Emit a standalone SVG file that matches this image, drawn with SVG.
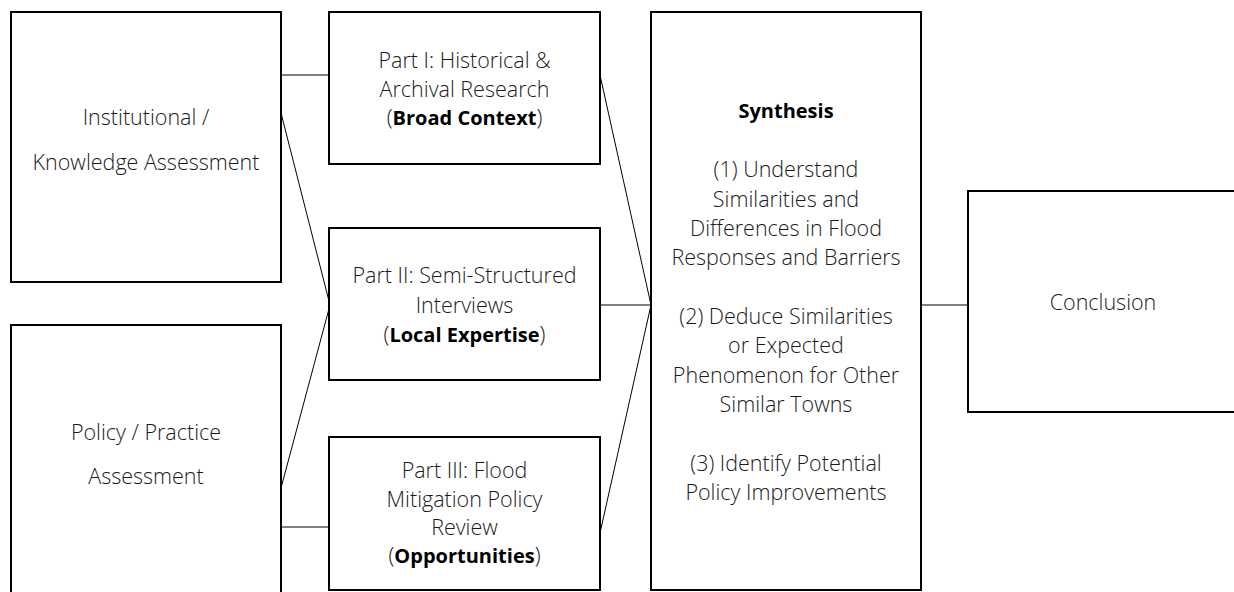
<svg xmlns="http://www.w3.org/2000/svg" width="1234" height="592" viewBox="0 0 1234 592">
  <style>
    .box { fill: #ffffff; stroke: #000000; stroke-width: 2; }
    .conn line { stroke: #000000; stroke-width: 1; fill: none; }
    text { font-family: "Open Sans", "Liberation Sans", sans-serif; font-size: 21.5px; font-weight: 300; fill: #1a1a1a; text-anchor: middle; }
    .b { font-size: 20px; font-weight: 700; fill: #000000; }
  </style>
  <rect width="1234" height="592" fill="#ffffff"/>
  <g id="connectors" class="conn">
    <line x1="281" y1="75" x2="329" y2="75"/>
    <line x1="281" y1="113" x2="330" y2="305"/>
    <line x1="281" y1="488" x2="330" y2="305"/>
    <line x1="281" y1="527" x2="329" y2="527"/>
    <line x1="600" y1="75" x2="651" y2="305"/>
    <line x1="600" y1="305" x2="651" y2="305"/>
    <line x1="600" y1="533" x2="651" y2="305"/>
    <line x1="921" y1="305" x2="968" y2="305"/>
  </g>
  <g id="institutional">
    <rect class="box" x="11" y="12" width="270" height="270"/>
    <text x="146" y="125">Institutional /</text>
    <text x="146" y="170">Knowledge Assessment</text>
  </g>
  <g id="policy">
    <rect class="box" x="11" y="325" width="270" height="270"/>
    <text x="146" y="440">Policy / Practice</text>
    <text x="146" y="484">Assessment</text>
  </g>
  <g id="part1">
    <rect class="box" x="329" y="12" width="271" height="152"/>
    <text x="464.5" y="68">Part I: Historical &amp;</text>
    <text x="464.5" y="97">Archival Research</text>
    <text x="464.5" y="125">(<tspan class="b">Broad Context</tspan>)</text>
  </g>
  <g id="part2">
    <rect class="box" x="329" y="228" width="271" height="152"/>
    <text x="464.5" y="283">Part II: Semi-Structured</text>
    <text x="464.5" y="313">Interviews</text>
    <text x="464.5" y="342">(<tspan class="b">Local Expertise</tspan>)</text>
  </g>
  <g id="part3">
    <rect class="box" x="329" y="437" width="271" height="153"/>
    <text x="464.5" y="478">Part III: Flood</text>
    <text x="464.5" y="507">Mitigation Policy</text>
    <text x="464.5" y="535">Review</text>
    <text x="464.5" y="563">(<tspan class="b">Opportunities</tspan>)</text>
  </g>
  <g id="synthesis">
    <rect class="box" x="651" y="12" width="270" height="578"/>
    <text x="786" y="118" class="b">Synthesis</text>
    <text x="786" y="177">(1) Understand</text>
    <text x="786" y="207">Similarities and</text>
    <text x="786" y="236">Differences in Flood</text>
    <text x="786" y="265">Responses and Barriers</text>
    <text x="786" y="324">(2) Deduce Similarities</text>
    <text x="786" y="353">or Expected</text>
    <text x="786" y="383">Phenomenon for Other</text>
    <text x="786" y="412">Similar Towns</text>
    <text x="786" y="471">(3) Identify Potential</text>
    <text x="786" y="500">Policy Improvements</text>
  </g>
  <g id="conclusion">
    <rect class="box" x="968" y="191" width="270" height="221"/>
    <text x="1103" y="310">Conclusion</text>
  </g>
</svg>
